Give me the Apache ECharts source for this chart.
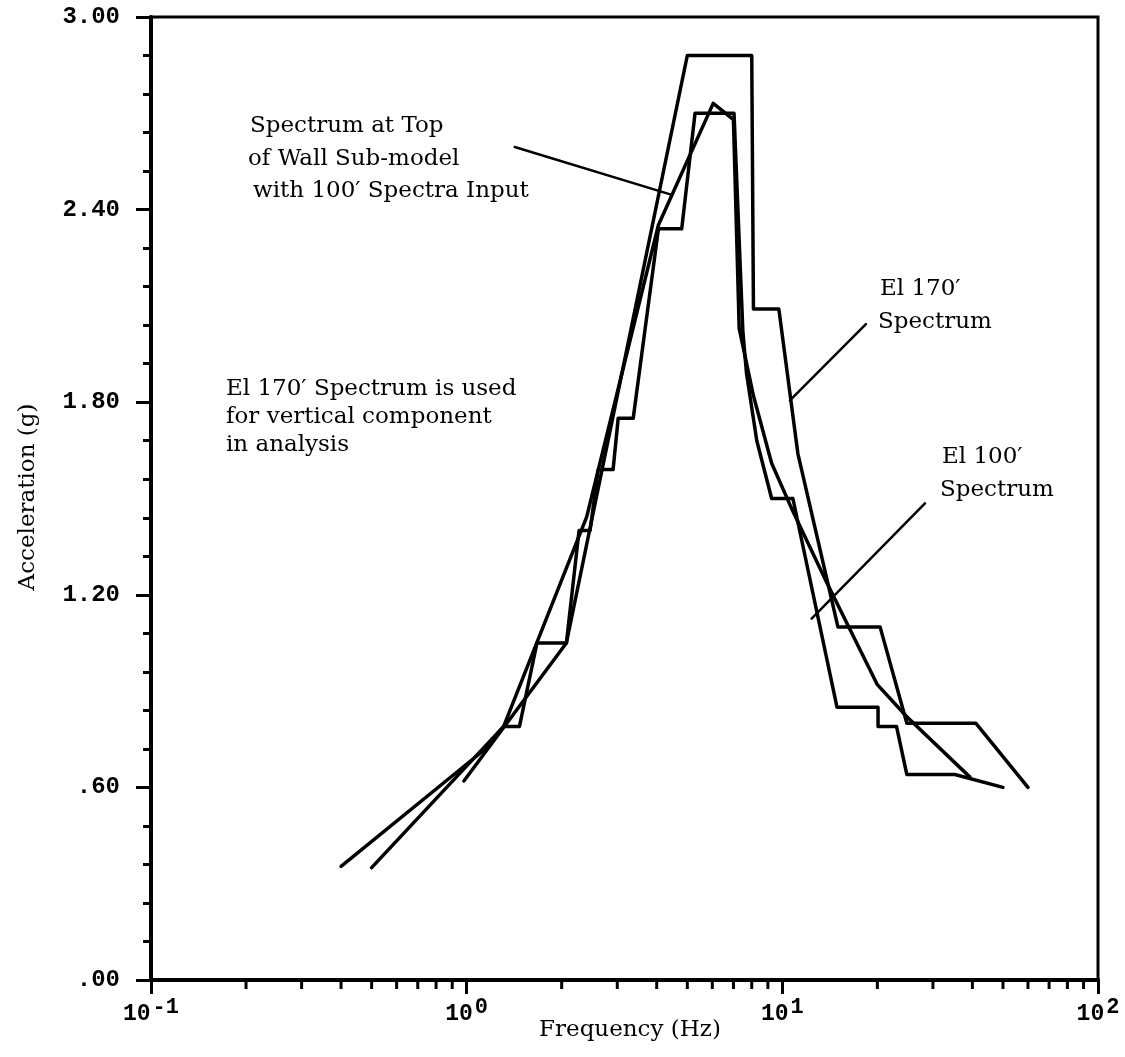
<!DOCTYPE html>
<html><head><meta charset="utf-8">
<script src="https://cdn.jsdelivr.net/npm/echarts/dist/echarts.min.js"></script>
<style>html,body{margin:0;padding:0;background:#fff}#c{width:1125px;height:1057px}</style>
</head><body><div id="c"></div>
<script>
// ---- data ----
const minorFreqTicks = [0.2,0.3,0.4,0.5,0.6,0.7,0.8,0.9,2,3,4,5,6,7,8,9,20,30,40,50,60,70,80,90];

const el170Freq = [0.98, 2.07, 5.0, 8.0, 8.1, 9.75, 11.2, 15.0, 20.4, 24.8, 41.0, 60.0];
const el170Acc  = [0.62, 1.05, 2.88, 2.88, 2.09, 2.09, 1.64, 1.10, 1.10, 0.80, 0.80, 0.60];

const el100Freq = [0.5, 1.31, 1.47, 1.67, 2.07, 2.27, 2.46, 2.61, 2.91, 3.02, 3.37, 4.05, 4.80, 5.29, 7.03, 7.5, 7.7, 8.3, 9.25, 10.8, 14.9, 20.1, 20.1, 23.0, 24.8, 35.2, 50];
const el100Acc  = [0.35, 0.79, 0.79, 1.05, 1.05, 1.40, 1.40, 1.59, 1.59, 1.75, 1.75, 2.34, 2.34, 2.70, 2.70, 2.02, 1.89, 1.68, 1.50, 1.50, 0.85, 0.85, 0.79, 0.79, 0.64, 0.64, 0.60];

const topFreq = [0.4, 1.13, 1.31, 2.40, 4.05, 6.04, 7.0, 7.3, 8.1, 9.25, 10.8, 13.8, 20.0, 24.8, 39.3];
const topAcc  = [0.354, 0.715, 0.79, 1.443, 2.352, 2.731, 2.68, 2.03, 1.82, 1.61, 1.46, 1.24, 0.92, 0.82, 0.632];

// annotation leader lines (data space)
const leaderTop  = [[1.42, 2.595], [4.47, 2.446]];
const leader170  = [[18.4, 2.043], [10.57, 1.806]];
const leader100  = [[28.3, 1.485], [12.38, 1.126]];

const zip = (a, b) => a.map((v, i) => [v, b[i]]);

const SERIF = '"DejaVu Serif", "Liberation Serif", serif';
const MONO = '"Liberation Mono", "DejaVu Sans Mono", monospace';
const TXT = '23px ' + SERIF;

const lineSeries = (name, data, w) => ({
  name, type: 'line', data, showSymbol: false, symbol: 'none',
  lineStyle: { color: '#000', width: w, join: 'round', cap: 'round' },
  animation: false, silent: true, z: 3
});

const label = (text, x, y) => ({ type: 'text', x, y, style: { text, font: TXT, fill: '#000', textAlign: 'left', textVerticalAlign: 'middle' } });

const chart = echarts.init(document.getElementById('c'), null, { renderer: 'canvas' });
chart.setOption({
  backgroundColor: '#fff',
  animation: false,
  grid: { left: 151, right: 27, top: 17, bottom: 77, show: true, borderColor: '#000', borderWidth: 3, backgroundColor: 'transparent' },
  xAxis: {
    type: 'log', logBase: 10, min: 0.1, max: 100,
    axisLine: { show: true, lineStyle: { color: '#000', width: 4 } },
    axisTick: { show: true, length: 14, inside: false, lineStyle: { color: '#000', width: 3 } },
    splitLine: { show: false },
    axisLabel: {
      margin: 16,
      formatter: v => '{b|10}{s|' + Math.round(Math.log10(v)) + '}',
      rich: {
        b: { fontFamily: MONO, fontWeight: 'bold', fontSize: 23, color: '#000', verticalAlign: 'bottom', lineHeight: 30 },
        s: { fontFamily: MONO, fontWeight: 'bold', fontSize: 22, color: '#000', verticalAlign: 'top', lineHeight: 18, padding: [0, 0, 0, 2] }
      }
    }
  },
  yAxis: {
    type: 'value', min: 0, max: 3, interval: 0.6,
    axisLine: { show: true, lineStyle: { color: '#000', width: 4 } },
    axisTick: { show: true, length: 15, inside: false, lineStyle: { color: '#000', width: 3 } },
    minorTick: { show: true, splitNumber: 5, length: 8, lineStyle: { color: '#000', width: 3 } },
    splitLine: { show: false },
    axisLabel: {
      margin: 31, color: '#000', fontFamily: MONO, fontWeight: 'bold', fontSize: 24,
      formatter: v => v.toFixed(2).replace(/^0/, '')
    }
  },
  series: [
    lineSeries('El 170\u2032 Spectrum', zip(el170Freq, el170Acc), 3.5),
    lineSeries('El 100\u2032 Spectrum', zip(el100Freq, el100Acc), 3.5),
    lineSeries('Spectrum at Top of Wall Sub-model', zip(topFreq, topAcc), 3.5),
    lineSeries('leaderTop', leaderTop, 2.5),
    lineSeries('leader170', leader170, 2.5),
    lineSeries('leader100', leader100, 2.5),
    {
      type: 'custom', silent: true, clip: false, animation: false,
      data: minorFreqTicks.map(v => [v, 0]),
      renderItem: (params, api) => {
        const p = api.coord([api.value(0), 0]);
        return { type: 'line', shape: { x1: p[0], y1: p[1], x2: p[0], y2: p[1] + 9 }, style: { stroke: '#000', lineWidth: 3 } };
      }
    }
  ],
  graphic: [
    label('Spectrum at Top', 250, 126),
    label('of Wall Sub-model', 248, 159),
    label('with 100\u2032 Spectra Input', 253, 191),
    label('El 170\u2032 Spectrum is used', 226, 389),
    label('for vertical component', 226, 417),
    label('in analysis', 226, 445),
    label('El 170\u2032', 880, 289),
    label('Spectrum', 878, 322),
    label('El 100\u2032', 942, 457),
    label('Spectrum', 940, 490),
    { type: 'text', x: 630, y: 1030, style: { text: 'Frequency (Hz)', font: TXT, fill: '#000', textAlign: 'center', textVerticalAlign: 'middle' } },
    { type: 'text', x: 28, y: 497, rotation: Math.PI / 2, style: { text: 'Acceleration (g)', font: TXT, fill: '#000', textAlign: 'center', textVerticalAlign: 'middle' } }
  ]
});
</script>
</body></html>
